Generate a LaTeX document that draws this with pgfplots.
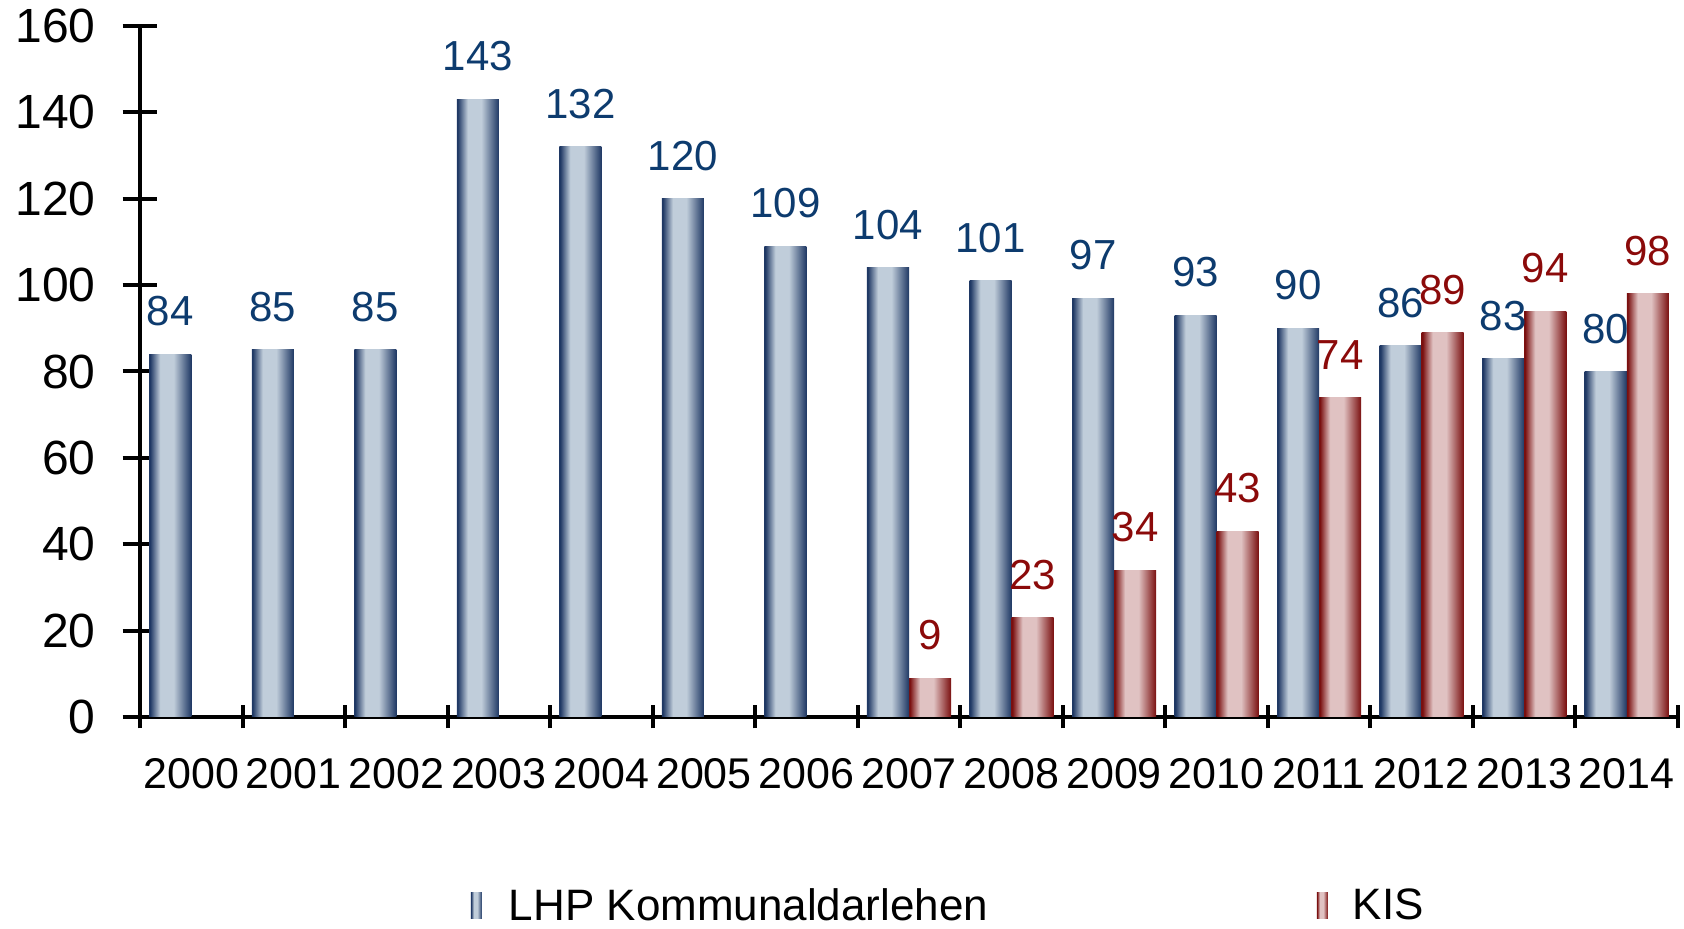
\documentclass[border=0pt]{standalone}
\usepackage{fontspec}
\setmainfont{Liberation Sans}
\usepackage{pgfplots}
\pgfplotsset{compat=1.18}

\definecolor{bdark}{HTML}{1F3864}
\definecolor{blight}{HTML}{C0CDDA}
\definecolor{rdark}{HTML}{7A0F0F}
\definecolor{rlight}{HTML}{E0C2C2}
\definecolor{blab}{HTML}{0D3B6E}
\definecolor{rlab}{HTML}{8B0A0A}

% bars: dark edges, light middle (25bp..75bp spans the bar)
\pgfdeclarehorizontalshading{bluebar}{100bp}{color(0bp)=(bdark); color(26bp)=(bdark); color(38bp)=(blight); color(54bp)=(blight); color(75bp)=(bdark); color(100bp)=(bdark)}
\pgfdeclarehorizontalshading{redbar}{100bp}{color(0bp)=(rdark); color(26bp)=(rdark); color(38bp)=(rlight); color(54bp)=(rlight); color(75bp)=(rdark); color(100bp)=(rdark)}

\pgfplotsset{
    lhp/.style={bar shift=-0.205, shade, shading=bluebar, draw=none, nodes near coords,
        every node near coord/.append style={text=blab, font=\fontsize{21}{25}\selectfont, yshift=10.5pt}},
    kis/.style={bar shift=0.205, shade, shading=redbar, draw=none, nodes near coords,
        every node near coord/.append style={text=rlab, font=\fontsize{21}{25}\selectfont, yshift=10.5pt}},
}

\begin{document}
\begin{tikzpicture}
\begin{axis}[
    name=ax,
    scale only axis,
    width=769pt, height=345.5pt,
    xmin=-0.5, xmax=14.5,
    ymin=0, ymax=160,
    ybar, bar width=0.41,
    axis x line*=bottom, axis y line*=left,
    axis line style={-, line width=2pt},
    xtick={0,...,14},
    xticklabels={2000,2001,2002,2003,2004,2005,2006,2007,2008,2009,2010,2011,2012,2013,2014},
    minor xtick={-0.5,0.5,...,14.5},
    ytick={0,20,...,160},
    tick align=center,
    major tick length=17.5pt, minor tick length=11.5pt,
    every tick/.style={black, line width=2pt},
    major x tick style={draw=none},
    /pgf/number format/assume math mode=true,
    x tick label style={font=\fontsize{21.5}{25}\selectfont, yshift=-8.5pt},
    y tick label style={font=\fontsize{24}{28}\selectfont, xshift=-10pt},
    legend columns=2,
    legend style={at={(0.211,-0.2735)}, anchor=west, draw=none, fill=none,
        font=\fontsize{22}{26}\selectfont, nodes={inner sep=0pt}, column sep=0pt},
    legend image code/.code={\path[#1] (0pt,-6.5pt) rectangle (5.5pt,6.5pt);},
]
% one \addplot per bar so that every bar gets its own shading
\addplot[lhp] coordinates {(0,84)};
\addlegendentry{\hspace*{13.5pt}\makebox[404pt][l]{LHP Kommunaldarlehen}}
\addplot[kis] coordinates {(7,9)};
\addlegendentry{\hspace*{12.5pt}KIS}
\addplot[lhp, forget plot] coordinates {(1,85)};
\addplot[lhp, forget plot] coordinates {(2,85)};
\addplot[lhp, forget plot] coordinates {(3,143)};
\addplot[lhp, forget plot] coordinates {(4,132)};
\addplot[lhp, forget plot] coordinates {(5,120)};
\addplot[lhp, forget plot] coordinates {(6,109)};
\addplot[lhp, forget plot] coordinates {(7,104)};
\addplot[lhp, forget plot] coordinates {(8,101)};
\addplot[lhp, forget plot] coordinates {(9,97)};
\addplot[lhp, forget plot] coordinates {(10,93)};
\addplot[lhp, forget plot] coordinates {(11,90)};
\addplot[lhp, forget plot] coordinates {(12,86)};
\addplot[lhp, forget plot] coordinates {(13,83)};
\addplot[lhp, forget plot] coordinates {(14,80)};
\addplot[kis, forget plot] coordinates {(8,23)};
\addplot[kis, forget plot] coordinates {(9,34)};
\addplot[kis, forget plot] coordinates {(10,43)};
\addplot[kis, forget plot] coordinates {(11,74)};
\addplot[kis, forget plot] coordinates {(12,89)};
\addplot[kis, forget plot] coordinates {(13,94)};
\addplot[kis, forget plot] coordinates {(14,98)};
\end{axis}
\pgfresetboundingbox
\path (ax.south west) ++(-70pt,-106pt) rectangle ++(842pt,464.5pt);
\end{tikzpicture}
\end{document}
